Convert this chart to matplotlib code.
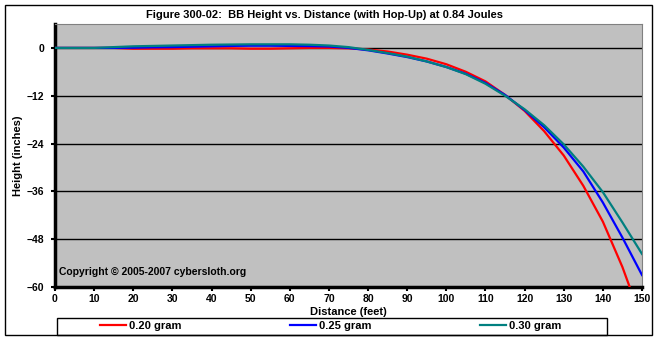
import matplotlib
matplotlib.use('Agg')
import matplotlib.pyplot as plt
from matplotlib.patches import Rectangle
from matplotlib.lines import Line2D

plt.rcParams['font.family'] = ['Liberation Sans', 'DejaVu Sans']
plt.rcParams['font.weight'] = 'bold'

# distance (feet)
distance = [0, 5, 10, 15, 20, 25, 30, 35, 40, 45, 50, 55, 60, 65, 70, 75,
            80, 85, 90, 95, 100, 105, 110, 115, 120, 125, 130, 135, 140, 145, 150]

# height (inches) for each BB weight
h_020 = [0, 0, 0, 0, -0.2, -0.2, -0.2, -0.1, -0.1, -0.1, -0.2, -0.2, -0.1, 0.0, 0.0, -0.1,
         -0.4, -0.9, -1.7, -2.7, -4.1, -6.0, -8.4, -11.8, -15.8, -20.9, -27.0, -34.6, -43.6, -55.0, -68.5]
h_025 = [0, 0, 0, 0, 0.05, 0.15, 0.2, 0.3, 0.4, 0.5, 0.55, 0.55, 0.5, 0.45, 0.35, 0.0,
         -0.6, -1.4, -2.3, -3.4, -4.8, -6.5, -8.8, -11.8, -15.6, -19.9, -25.0, -31.0, -38.8, -47.6, -57.0]
h_030 = [0, 0, 0, 0.2, 0.4, 0.5, 0.6, 0.7, 0.8, 0.85, 0.9, 0.9, 0.9, 0.8, 0.6, 0.2,
         -0.5, -1.3, -2.2, -3.4, -4.8, -6.6, -9.0, -12.0, -15.4, -19.4, -24.2, -29.8, -36.2, -43.8, -51.7]

labels = ['0.20 gram', '0.25 gram', '0.30 gram']
colors = ['#FF0000', '#0000FF', '#008080']
y_ticks = [0, -12, -24, -36, -48, -60]
x_ticks = list(range(0, 151, 10))

fig = plt.figure(figsize=(6.57, 3.40), dpi=100)
fig.patch.set_facecolor('white')

ax = fig.add_axes([55/657, 53/340, 587/657, 263/340])
ax.set_facecolor('#C0C0C0')

for h, c, lab in zip([h_020, h_025, h_030], colors, labels):
    ax.plot(distance, h, color=c, lw=1.6, label=lab, zorder=3)

ax.set_xlim(0, 150)
ax.set_ylim(-60, 6)
ax.set_xticks(x_ticks)
ax.set_yticks(y_ticks)
for yv in y_ticks[:-1]:
    ax.axhline(yv, color='black', lw=1, zorder=2)

ax.spines['left'].set_linewidth(2.5)
ax.spines['bottom'].set_linewidth(2.5)
ax.spines['top'].set_color('#808080')
ax.spines['right'].set_color('#808080')
ax.tick_params(axis='both', direction='out', length=3, width=1.5,
               labelsize=7.5)
ax.tick_params(axis='y', pad=5)
ax.tick_params(axis='x', pad=2)
for t in ax.get_xticklabels() + ax.get_yticklabels():
    t.set_fontweight('bold')

fig.text(325/657, 1 - 15/340,
         'Figure 300-02:  BB Height vs. Distance (with Hop-Up) at 0.84 Joules',
         fontsize=8, fontweight='bold', ha='center', va='center')
ax.set_xlabel('Distance (feet)', fontsize=8, fontweight='bold', labelpad=2)
ax.set_ylabel('Height (inches)', fontsize=8, fontweight='bold', labelpad=2)

ax.text(0.007, 0.045, 'Copyright \u00a9 2005-2007 cybersloth.org', transform=ax.transAxes,
        fontsize=7.5, fontweight='bold', zorder=4)

# outer chart border and legend box
fig.patches.append(Rectangle((5/657, 5/340), 647/657, 330/340, transform=fig.transFigure,
                             fill=False, edgecolor='black', lw=1))
fig.patches.append(Rectangle((57/657, 5/340), 550/657, 17/340, transform=fig.transFigure,
                             fill=False, edgecolor='black', lw=1))

handles = [Line2D([0], [0], color=c, lw=1.6) for c in colors]
fig.legend(handles, labels, loc='lower left', ncol=3, mode='expand',
           bbox_to_anchor=(96/657, 5/340, 470/657, 17/340), frameon=False,
           borderaxespad=0, handlelength=2.3, handletextpad=0.3,
           prop={'size': 8, 'weight': 'bold'})

plt.savefig('out.png', dpi=100)
